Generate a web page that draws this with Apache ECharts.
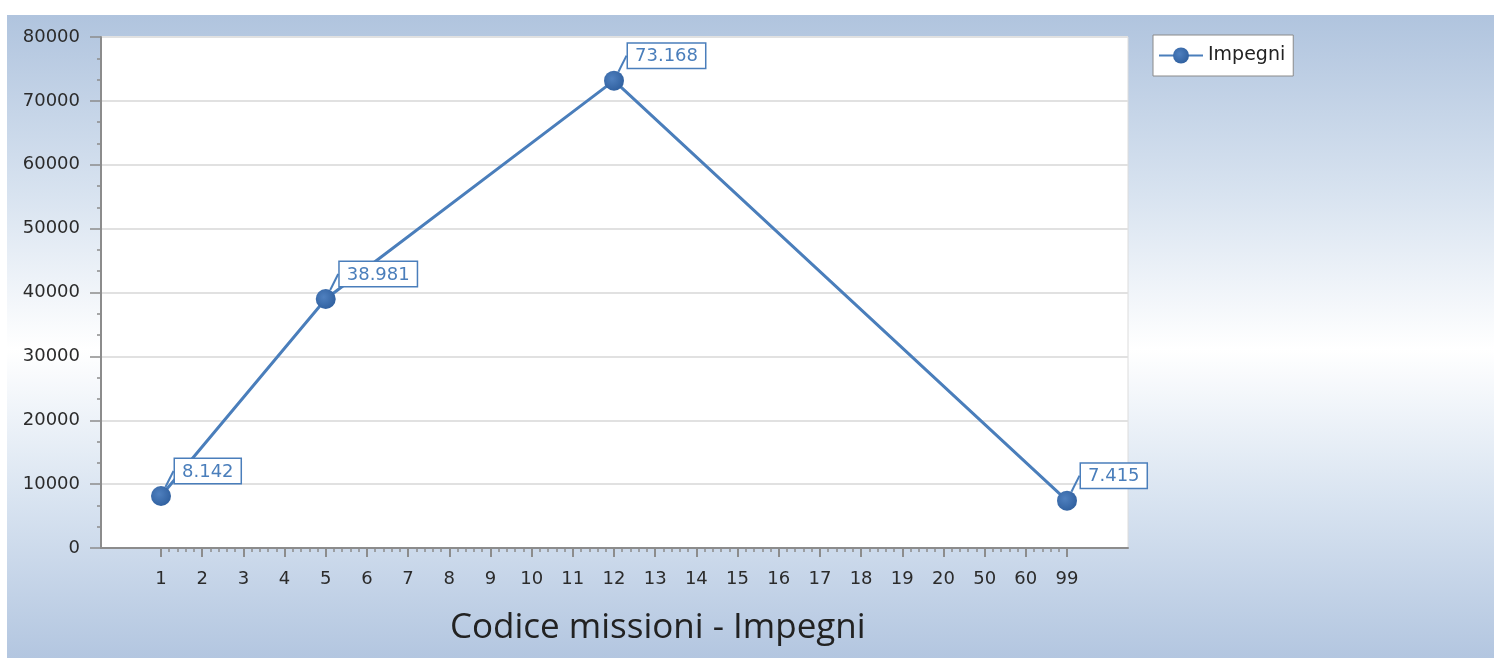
<!DOCTYPE html>
<html>
<head>
<meta charset="utf-8">
<script src="https://cdn.jsdelivr.net/npm/echarts@6/dist/echarts.min.js"></script>
<style>
  html, body { margin: 0; padding: 0; background: #fff; }
  #panel {
    position: absolute; left: 7px; top: 15px; right: 0; bottom: 0;
    background: linear-gradient(to bottom, #b0c4de 0%, #d8e3f0 28%, #ffffff 52%, #d9e4f1 75%, #b3c6e0 100%);
  }
  #chart { position: absolute; left: 0; top: 0; width: 1494px; height: 658px; }
</style>
</head>
<body>
<div id="panel"></div>
<div id="chart"></div>
<script>
// codici missione sull'asse x
const categories = ['1', '2', '3', '4', '5', '6', '7', '8', '9', '10', '11', '12',
  '13', '14', '15', '16', '17', '18', '19', '20', '50', '60', '99'];
// impegni per codice (solo i codici con valore)
const impegni = [8142, null, null, null, 38981, null, null, null, null, null, null, 73168,
  null, null, null, null, null, null, null, null, null, null, 7415];
const yTicks = { min: 0, max: 80000, step: 10000 };

const fmtIt = v => String(v).replace(/\B(?=(\d{3})+(?!\d))/g, '.');
const blue = '#4a7ebb';
const font = 'DejaVu Sans';

const chart = echarts.init(document.getElementById('chart'), null, { renderer: 'canvas' });
chart.setOption({
  animation: false,
  backgroundColor: 'transparent',
  title: {
    text: 'Codice missioni - Impegni',
    left: 445, top: 606,
    textStyle: { fontFamily: 'Open Sans', fontSize: 35, fontWeight: 'normal', color: '#222' }
  },
  legend: {
    left: 1153, top: 35,
    backgroundColor: '#fff', borderColor: '#8a8a8a', borderWidth: 1,
    padding: [11, 8, 11, 5],
    itemWidth: 44, itemHeight: 20,
    textStyle: { fontFamily: font, fontSize: 19, color: '#222' },
    data: ['Impegni']
  },
  grid: [
    { left: 101, right: 366, top: 37, bottom: 110, show: true,
      backgroundColor: '#fff', borderColor: '#dcdcdc', borderWidth: 1 },
    { left: 161, right: 427, top: 37, bottom: 110 }
  ],
  xAxis: [
    { gridIndex: 0, type: 'value', min: 0, max: 1, position: 'bottom',
      axisLine: { show: true, lineStyle: { color: '#8c8c8c', width: 2 } },
      axisTick: { show: false }, axisLabel: { show: false }, splitLine: { show: false } },
    { gridIndex: 1, type: 'category', data: categories, boundaryGap: false, position: 'bottom',
      axisLine: { show: false },
      axisTick: { show: true, length: 9, lineStyle: { color: '#8c8c8c', width: 2 } },
      axisLabel: { fontFamily: font, fontSize: 18, color: '#2b2b2b', margin: 22, interval: 0 },
      splitLine: { show: false } },
    { gridIndex: 1, type: 'value', min: 0, max: categories.length - 1, interval: 1, position: 'bottom',
      axisLine: { show: false }, axisTick: { show: false }, axisLabel: { show: false },
      splitLine: { show: false },
      minorTick: { show: true, splitNumber: 5, length: 4, lineStyle: { color: '#8c8c8c', width: 1.5 } },
      minorSplitLine: { show: false } }
  ],
  yAxis: [
    { gridIndex: 0, type: 'value', min: yTicks.min, max: yTicks.max, interval: yTicks.step,
      axisLine: { show: true, lineStyle: { color: '#8c8c8c', width: 2 } },
      axisTick: { show: true, length: 11, lineStyle: { color: '#8c8c8c', width: 1.5 } },
      minorTick: { show: true, splitNumber: 3, length: 4, lineStyle: { color: '#8c8c8c', width: 1.5 } },
      axisLabel: { fontFamily: font, fontSize: 18, color: '#2b2b2b', margin: 21, formatter: v => String(v) },
      splitLine: { show: true, lineStyle: { color: '#e1e1e1', width: 2 } } },
    { gridIndex: 1, type: 'value', min: yTicks.min, max: yTicks.max, show: false }
  ],
  series: [{
    name: 'Impegni',
    type: 'line',
    xAxisIndex: 1, yAxisIndex: 1,
    data: impegni,
    connectNulls: true,
    symbol: 'circle', symbolSize: 20,
    lineStyle: { color: blue, width: 3 },
    itemStyle: {
      color: new echarts.graphic.RadialGradient(0.4, 0.4, 0.7, [
        { offset: 0, color: '#4f80bf' }, { offset: 1, color: '#2d5d9c' }
      ])
    },
    label: {
      show: true,
      position: 'right',
      verticalAlign: 'bottom',
      distance: 4,
      formatter: p => fmtIt(p.value),
      fontFamily: font, fontSize: 18, color: blue,
      backgroundColor: '#fff', borderColor: blue, borderWidth: 1.5,
      padding: [4, 7, 2, 7]
    },
    labelLayout: { dy: -13 },
    labelLine: { show: true, lineStyle: { color: blue, width: 2 } }
  }]
});
</script>
</body>
</html>
